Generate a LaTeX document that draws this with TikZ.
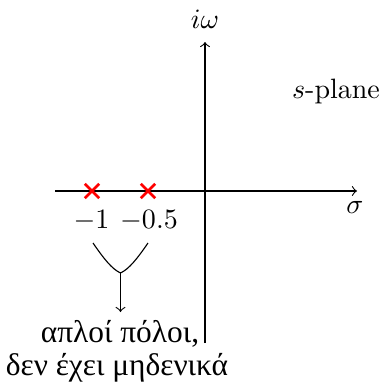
\documentclass[tikz,border=0pt]{standalone}
\usepackage{fontspec}
\newfontfamily\greekfont{Liberation Serif}
\usetikzlibrary{shapes.misc}
\begin{document}
\begin{tikzpicture}[x=0.357pt,y=-0.357pt,
  pole/.style={cross out,draw=red,line width=0.9pt,minimum size=4.2pt,inner sep=0pt},
  axis/.style={->},
  lbl/.style={inner sep=0pt},
  gr/.style={inner sep=0pt,anchor=base,font=\greekfont\fontsize{11.2pt}{13pt}\selectfont}]
\useasboundingbox (0,0) rectangle (382,385);
\coordinate (xs) at (55,191);
\coordinate (xe) at (357,191);
\coordinate (ys) at (205,343);
\coordinate (ye) at (205,42);
\draw[axis] (xs) -- (xe);
\draw[axis] (ys) -- (ye);
\node[lbl] (iw) at (205,19) {$i\omega$};
\node[lbl,anchor=base] (sp) at (336,98) {$s$-plane};
\node[lbl,anchor=base] (sig) at (355,213) {$\sigma$};
\node[pole] (p1) at (92,191) {};
\node[pole] (p2) at (148,191) {};
\node[lbl,anchor=base] (l1) at (91.5,228) {$-1$};
\node[lbl,anchor=base] (l2) at (149,228) {$-0.5$};
\coordinate (va) at (93,243);
\coordinate (vc) at (148,243);
\coordinate (vb) at (120.5,273);
\coordinate (at) at (120.5,312);
\draw (va) .. controls (104,259) and (112,269) .. (vb) .. controls (129,269) and (137,259) .. (vc);
\draw[->] (vb) -- (at);
\node[gr] (g1) at (120,342) {απλοί πόλοι,};
\node[gr] (g2) at (117,375) {δεν έχει μηδενικά};
\end{tikzpicture}
\end{document}
